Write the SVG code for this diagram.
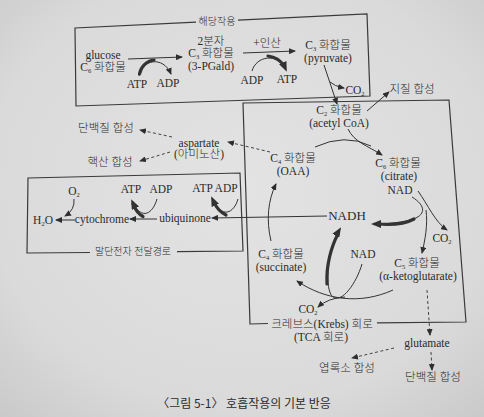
<svg xmlns="http://www.w3.org/2000/svg" width="484" height="417" viewBox="0 0 484 417">
<defs>
<radialGradient id="bg" cx="0.5" cy="0.45" r="0.75">
<stop offset="0" stop-color="#e3e3e3"/>
<stop offset="0.7" stop-color="#dadada"/>
<stop offset="1" stop-color="#c9c9c9"/>
</radialGradient>
<marker id="a" markerUnits="userSpaceOnUse" markerWidth="7" markerHeight="6" refX="6" refY="3" orient="auto"><path d="M0,0 L7,3 L0,6 Z" fill="#2e2e2e"/></marker>
<marker id="ab" markerUnits="userSpaceOnUse" markerWidth="10" markerHeight="8" refX="8" refY="4" orient="auto"><path d="M0,0 L10,4 L0,8 Z" fill="#2e2e2e"/></marker>
<style>
text{font-family:"Liberation Serif","Noto Sans CJK KR","DejaVu Serif",serif;font-size:11.5px;font-weight:300;fill:#2b2b2b;text-anchor:middle}
.lbl{font-size:10px}
.big{font-size:13px}
.cap{font-family:"Noto Sans CJK KR",sans-serif;font-size:12px;font-weight:400}
.s{font-size:6.5px}
.box{fill:none;stroke:#3a3a3a;stroke-width:1.2}
.ln{fill:none;stroke:#333;stroke-width:1}
.th{fill:none;stroke:#333;stroke-width:3.2;stroke-linecap:round}
.ds{fill:none;stroke:#444;stroke-width:1;stroke-dasharray:3,2.5}
</style>
</defs>
<rect width="484" height="417" fill="url(#bg)"/>

<g id="boxes">
<path class="box" d="M196 22.2 L75 28 L76 106 L370 96 L367 14 L238 20.2"/>
<path class="box" d="M268 323.5 L250 324 L243 103 L449 100 L466 322 L377 322.8"/>
<path class="box" d="M90 252.5 L27 253 L28 178 L240 173 L243 251 L177 251.6"/>
<text class="lbl" x="217" y="25">해당작용</text>
<text x="322" y="328">크레브스(Krebs) 회로</text>
<text x="321" y="341">(TCA 회로)</text>
<text class="lbl" x="133" y="255">말단전자 전달경로</text>
</g>

<g id="connectors">
<line class="ln" x1="128" y1="59" x2="182" y2="57" marker-end="url(#a)"/>
<path class="ln" d="M139 76 C 141 60, 163 55, 171 74" marker-end="url(#a)"/>
<path class="th" d="M139.5 74 C 141 66, 147 61, 154 60"/>
<line class="ln" x1="243" y1="53" x2="295" y2="51" marker-end="url(#a)"/>
<path class="ln" d="M252 71 C 256 56, 278 52, 286 70" marker-end="url(#ab)"/>
<path class="th" d="M268 56 C 276 57, 281 61, 284 66"/>
<line class="ln" x1="324" y1="65" x2="337" y2="104" marker-end="url(#a)"/>
<path class="ln" d="M330 82 Q 334 86 344 88" marker-end="url(#a)"/>
<line class="ln" x1="367" y1="111" x2="389" y2="92" marker-end="url(#a)"/>

<path class="ln" d="M348 129 C 354 142, 368 146, 382 155" marker-end="url(#a)"/>
<path class="ln" d="M315 147 Q 345 133 371 146"/>
<line class="ds" x1="270" y1="152" x2="228" y2="142" marker-end="url(#a)"/>
<line class="ds" x1="172" y1="137" x2="140" y2="130" marker-end="url(#a)"/>
<line class="ds" x1="170" y1="152" x2="140" y2="161" marker-end="url(#a)"/>

<path class="ln" d="M74 199 Q 75 210 65 216" marker-end="url(#a)"/>
<line class="ln" x1="75" y1="220" x2="56" y2="220" marker-end="url(#a)"/>
<line class="ln" x1="157" y1="219" x2="130" y2="219" marker-end="url(#a)"/>
<path class="ln" d="M157 199 C 153 213, 142 222, 132 201" marker-end="url(#ab)"/>
<path class="th" d="M143 216.5 C 138 214, 135 209, 133 204"/>
<path class="ln" d="M238 199 C 234 213, 222 220, 212 198" marker-end="url(#ab)"/>
<path class="th" d="M226 215 C 220 212, 216 207, 214 202"/>
<line class="ln" x1="327" y1="216" x2="212" y2="218" marker-end="url(#a)"/>

<path class="ln" d="M412 197 C 430 208, 430 224, 373 224" marker-end="url(#ab)"/>
<path class="th" d="M414 219 C 405 224, 392 225, 378 224"/>
<path class="ln" d="M418 191 C 428 205, 435 222, 447 230" marker-end="url(#a)"/>
<path class="ln" d="M426 210 C 428 225, 425 240, 422 253" marker-end="url(#a)"/>
<path class="ln" d="M393 290 C 360 305, 325 300, 297 281" marker-end="url(#a)"/>
<path class="ln" d="M345 297 Q 328 298 318 307" marker-end="url(#a)"/>
<path class="ln" d="M362 264 C 356 284, 342 303, 333 297 C 324 290, 327 250, 340 229" marker-end="url(#ab)"/>
<path class="th" d="M327 284 C 326 266, 331 247, 338 234"/>
<path class="ln" d="M271 241 C 266 220, 268 200, 276 184" marker-end="url(#a)"/>
<line class="ds" x1="427" y1="290" x2="430" y2="335" marker-end="url(#a)"/>
<line class="ds" x1="394" y1="348" x2="352" y2="358" marker-end="url(#a)"/>
<line class="ds" x1="431" y1="352" x2="432" y2="370" marker-end="url(#a)"/>
</g>

<g id="glucose"><text x="103" y="59">glucose</text><text x="103" y="71">C<tspan class="s" dy="1.5">6</tspan><tspan dy="-1.5"> 화합물</tspan></text></g>
<g id="atp1"><text x="137" y="88">ATP</text></g>
<g id="adp1"><text x="168" y="87">ADP</text></g>
<g id="pgald"><text x="211" y="45">2분자</text><text x="211" y="57">C<tspan class="s" dy="1.5">3</tspan><tspan dy="-1.5"> 화합물</tspan></text><text x="211" y="70">(3-PGald)</text></g>
<g id="inorg"><text x="267" y="47">+인산</text></g>
<g id="adp2"><text x="252" y="84">ADP</text></g>
<g id="atp2"><text x="287" y="83">ATP</text></g>
<g id="pyruvate"><text x="328" y="49">C<tspan class="s" dy="1.5">3</tspan><tspan dy="-1.5"> 화합물</tspan></text><text x="328" y="62">(pyruvate)</text></g>
<g id="co2a"><text x="355" y="94">CO<tspan class="s" dy="1.5">2</tspan></text></g>
<g id="lipid"><text x="412" y="93">지질 합성</text></g>

<g id="acetyl"><text x="339" y="114">C<tspan class="s" dy="1.5">2</tspan><tspan dy="-1.5"> 화합물</tspan></text><text x="339" y="127">(acetyl CoA)</text></g>
<g id="citrate"><text x="398" y="167">C<tspan class="s" dy="1.5">6</tspan><tspan dy="-1.5"> 화합물</tspan></text><text x="399" y="180">(citrate)</text><text x="400" y="194">NAD</text></g>
<g id="oaa"><text x="293" y="162">C<tspan class="s" dy="1.5">4</tspan><tspan dy="-1.5"> 화합물</tspan></text><text x="293" y="175">(OAA)</text></g>
<g id="aspartate"><text x="199" y="147">aspartate</text><text x="199" y="158">(아미노산)</text></g>
<g id="protein1"><text x="106" y="132">단백질 합성</text></g>
<g id="nucleic"><text x="110" y="166">핵산 합성</text></g>

<g id="o2"><text x="74" y="195">O<tspan class="s" dy="1.5">2</tspan></text></g>
<g id="h2o"><text x="43" y="224">H<tspan class="s" dy="1.5">2</tspan><tspan dy="-1.5">O</tspan></text></g>
<g id="cytochrome"><text x="102" y="223">cytochrome</text></g>
<g id="ubiquinone"><text x="185" y="222">ubiquinone</text></g>
<g id="atpadp1"><text x="131" y="193">ATP</text><text x="161" y="193">ADP</text></g>
<g id="atpadp2"><text x="215" y="192">ATP ADP</text></g>

<g id="nadh"><text class="big" x="347" y="220">NADH</text></g>
<g id="co2b"><text x="442" y="242">CO<tspan class="s" dy="1.5">2</tspan></text></g>
<g id="akg"><text x="417" y="267">C<tspan class="s" dy="1.5">5</tspan><tspan dy="-1.5"> 화합물</tspan></text><text x="418" y="280">(α-ketoglutarate)</text></g>
<g id="nad2"><text x="363" y="258">NAD</text></g>
<g id="succinate"><text x="281" y="258">C<tspan class="s" dy="1.5">4</tspan><tspan dy="-1.5"> 화합물</tspan></text><text x="281" y="271">(succinate)</text></g>
<g id="co2c"><text x="308" y="313">CO<tspan class="s" dy="1.5">2</tspan></text></g>
<g id="glutamate"><text x="427" y="347">glutamate</text></g>
<g id="chloro"><text x="347" y="372">엽록소 합성</text></g>
<g id="protein2"><text x="433" y="381">단백질 합성</text></g>

<text class="cap" x="244" y="408">〈그림 5-1〉 호흡작용의 기본 반응</text>
</svg>
